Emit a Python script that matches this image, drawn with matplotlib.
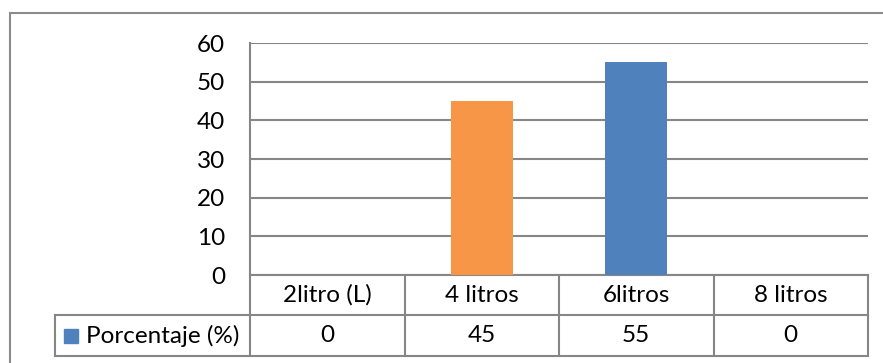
import matplotlib
matplotlib.use("Agg")
import matplotlib.pyplot as plt
from matplotlib.patches import Rectangle
from matplotlib.transforms import blended_transform_factory

categories = ["2litro (L)", "4 litros", "6litros", "8 litros"]
porcentaje = [0, 45, 55, 0]
bar_colors = ["#4F81BD", "#F79646", "#4F81BD", "#4F81BD"]
series_name = "Porcentaje (%)"
yticks = [0, 10, 20, 30, 40, 50, 60]

W, H = 883, 363
plt.rcParams["font.family"] = ["Lato", "DejaVu Sans"]
GRID = "#868686"
FS = 17.5

fig = plt.figure(figsize=(W / 100, H / 100), dpi=100)

# outer chart frame (runs past the right and bottom edges)
fig.patches.append(Rectangle((10 / W, -0.05), 1.0, (H - 13) / H + 0.05,
                             transform=fig.transFigure, fill=False,
                             edgecolor="#8c8c8c", linewidth=1.5))

left, right, top, bottom = 250, 868, 43, 275
ax = fig.add_axes([left / W, (H - bottom) / H, (right - left) / W, (bottom - top) / H])
ax.set_xlim(-0.5, len(categories) - 0.5)
ax.set_ylim(0, 60)
ax.set_yticks(yticks)
ax.set_yticklabels([str(t) for t in yticks], fontsize=FS)
ax.tick_params(axis="y", length=0, pad=18)
ax.set_xticks([])
ax.grid(axis="y", color=GRID, linewidth=1.5)
ax.set_axisbelow(True)
for s in ["top", "right", "bottom", "left"]:
    ax.spines[s].set_visible(False)

ax.bar(range(len(categories)), porcentaje, width=0.4, color=bar_colors, zorder=3)

# data table below the plot
tr = blended_transform_factory(ax.transData, ax.transAxes)
ph = bottom - top
r1 = -40 / ph
r2 = -81 / ph
n = len(categories)
cw = (right - left) / n
legend_x = -0.5 - 195 / cw
kw = dict(transform=tr, color=GRID, linewidth=1.5, clip_on=False)
ax.plot([-0.5, -0.5], [1, r2], **kw)
for i in range(n):
    ax.plot([i + 0.5, i + 0.5], [0, r2], **kw)
ax.plot([legend_x, n - 0.5], [r1, r1], **kw)
ax.plot([legend_x, n - 0.5], [r2, r2], **kw)
ax.plot([legend_x, legend_x], [r1, r2], **kw)
ax.plot([-0.5, n - 0.5], [0, 0], **kw)

for i, (c, v) in enumerate(zip(categories, porcentaje)):
    ax.text(i, r1 / 2, c, transform=tr, ha="center", va="center", fontsize=FS)
    ax.text(i, (r1 + r2) / 2, str(v), transform=tr, ha="center", va="center", fontsize=FS)

ax.add_patch(Rectangle((legend_x + 9 / cw, (r1 + r2) / 2 - 7 / ph), 14 / cw, 14 / ph,
                       transform=tr, color="#4F81BD", clip_on=False))
ax.text(legend_x + 31 / cw, (r1 + r2) / 2, series_name, transform=tr,
        ha="left", va="center", fontsize=FS)

fig.savefig("out.png", dpi=100)
